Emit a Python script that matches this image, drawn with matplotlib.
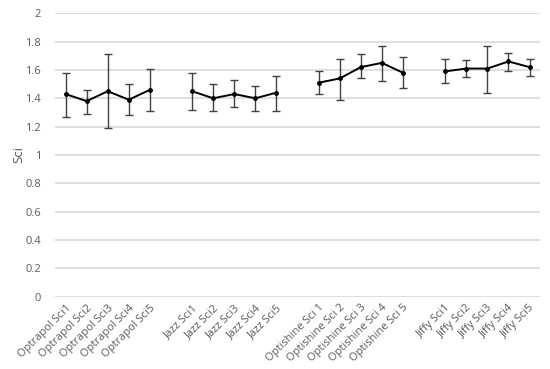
import numpy as np
import matplotlib
matplotlib.use("Agg")
import matplotlib.pyplot as plt

plt.rcParams['font.family'] = ['Open Sans', 'DejaVu Sans']

optrapol_labels = ["Optrapol Sci1", "Optrapol Sci2", "Optrapol Sci3", "Optrapol Sci4", "Optrapol Sci5"]
jazz_labels = ["Jazz Sci1", "Jazz Sci2", "Jazz Sci3", "Jazz Sci4", "Jazz Sci5"]
optishine_labels = ["Optishine Sci 1", "Optishine Sci 2", "Optishine Sci 3", "Optishine Sci 4", "Optishine Sci 5"]
jiffy_labels = ["Jiffy Sci1", "Jiffy Sci2", "Jiffy Sci3", "Jiffy Sci4", "Jiffy Sci5"]

optrapol_mean = [1.43, 1.38, 1.45, 1.39, 1.46]
optrapol_top = [1.58, 1.46, 1.71, 1.50, 1.61]
optrapol_bot = [1.27, 1.29, 1.19, 1.28, 1.31]

jazz_mean = [1.45, 1.40, 1.43, 1.40, 1.44]
jazz_top = [1.58, 1.50, 1.53, 1.49, 1.56]
jazz_bot = [1.32, 1.31, 1.34, 1.31, 1.31]

optishine_mean = [1.51, 1.54, 1.62, 1.65, 1.58]
optishine_top = [1.59, 1.68, 1.71, 1.77, 1.69]
optishine_bot = [1.43, 1.39, 1.54, 1.52, 1.47]

jiffy_mean = [1.59, 1.61, 1.61, 1.66, 1.62]
jiffy_top = [1.68, 1.67, 1.77, 1.72, 1.68]
jiffy_bot = [1.51, 1.55, 1.44, 1.59, 1.56]

groups = [
    (optrapol_labels, optrapol_mean, optrapol_top, optrapol_bot),
    (jazz_labels, jazz_mean, jazz_top, jazz_bot),
    (optishine_labels, optishine_mean, optishine_top, optishine_bot),
    (jiffy_labels, jiffy_mean, jiffy_top, jiffy_bot),
]

# one empty category between groups, nan breaks the line
labels, mean, top, bot = [], [], [], []
for i, (l, m, t, b) in enumerate(groups):
    if i > 0:
        labels.append("")
        mean.append(np.nan)
        top.append(np.nan)
        bot.append(np.nan)
    labels += l
    mean += m
    top += t
    bot += b

x = np.arange(len(labels))
mean = np.array(mean)
top = np.array(top)
bot = np.array(bot)

fig = plt.figure(figsize=(5.5, 3.69), dpi=100)
ax = fig.add_axes([0.1, 0.196, 0.882, 0.768])

ax.errorbar(x, mean, yerr=[mean - bot, top - mean], fmt='none', ecolor='#404040',
            elinewidth=1.0, capsize=3, capthick=1.0, zorder=2)
ax.plot(x, mean, color='black', lw=1.4, marker='o', ms=2.5, zorder=3)

ax.set_ylim(0, 2)
ax.set_xlim(-0.5, len(labels) - 0.5)
ax.set_yticks(np.arange(0, 2.01, 0.2))
ax.set_yticklabels(["0", "0.2", "0.4", "0.6", "0.8", "1", "1.2", "1.4", "1.6", "1.8", "2"])
ax.grid(axis='y', color='#d9d9d9', lw=1.2)
ax.set_axisbelow(True)
for s in ax.spines.values():
    s.set_visible(False)
ax.tick_params(axis='both', length=0, colors='#595959', labelsize=8)
ax.tick_params(axis='y', pad=10)
ax.tick_params(axis='x', pad=4)
ax.set_xticks(x)
ax.set_xticklabels(labels, rotation=45, ha='right', rotation_mode='anchor', fontsize=8)
ax.set_ylabel("Sci", color='#595959', fontsize=9.5)
ax.yaxis.set_label_coords(-0.062, 0.5)

fig.savefig("out.png", dpi=100)
